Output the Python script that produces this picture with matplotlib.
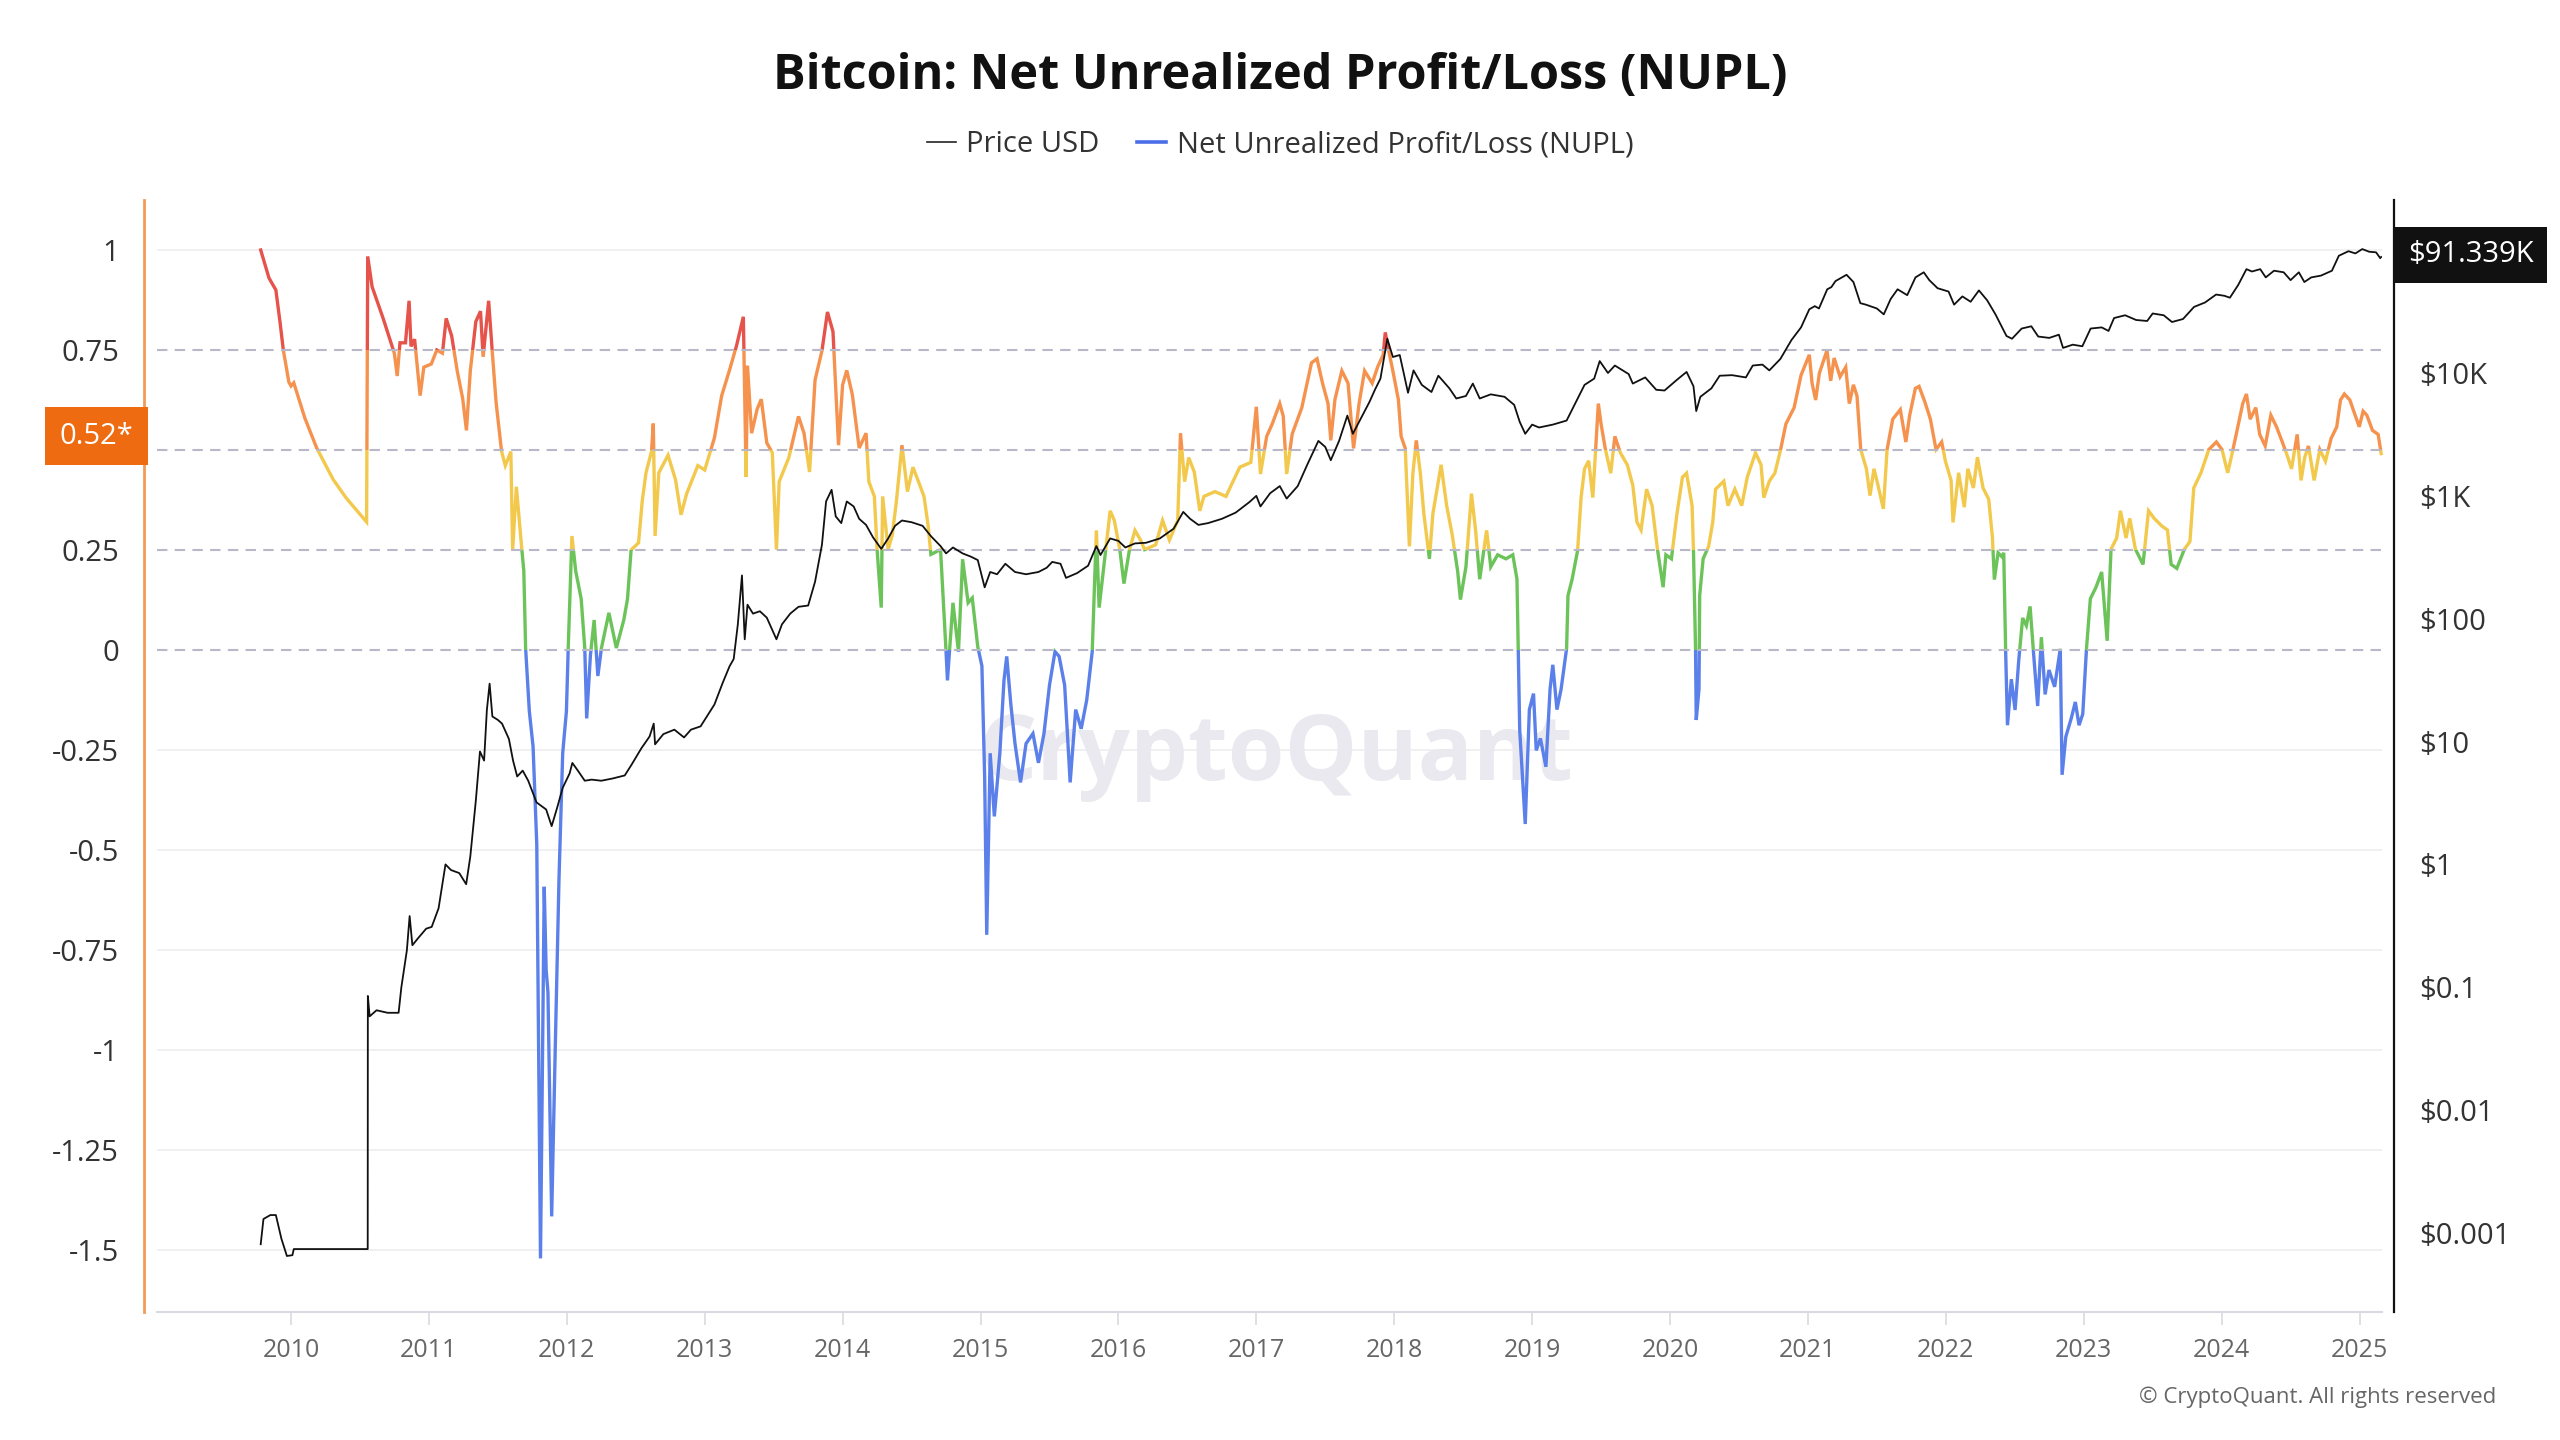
import matplotlib
matplotlib.use('Agg')
import matplotlib.pyplot as plt
from matplotlib.patches import Rectangle
from matplotlib.lines import Line2D

plt.rcParams['font.family'] = ['Open Sans', 'DejaVu Sans']

# ---------------- data ----------------
nupl_t = [2009.78, 2009.84, 2009.89, 2009.92, 2009.944, 2009.984, 2010.00, 2010.02, 2010.10, 2010.186,
          2010.306, 2010.40, 2010.548, 2010.556, 2010.588, 2010.668, 2010.749, 2010.77, 2010.79, 2010.83,
          2010.856, 2010.87, 2010.896, 2010.936, 2010.963, 2011.017, 2011.057, 2011.098, 2011.125, 2011.165,
          2011.205, 2011.245, 2011.272, 2011.30, 2011.34, 2011.374, 2011.393, 2011.433, 2011.46, 2011.487,
          2011.527, 2011.554, 2011.594, 2011.607, 2011.634, 2011.674, 2011.688, 2011.701, 2011.728, 2011.755,
          2011.782, 2011.809, 2011.836, 2011.85, 2011.863, 2011.89, 2011.916, 2011.943, 2011.97, 2011.997,
          2012.01, 2012.037, 2012.064, 2012.104, 2012.13, 2012.144, 2012.171, 2012.198, 2012.225, 2012.251,
          2012.305, 2012.359, 2012.413, 2012.44, 2012.466, 2012.52, 2012.547, 2012.574, 2012.614, 2012.627,
          2012.64, 2012.667, 2012.734, 2012.788, 2012.828, 2012.869, 2012.95, 2013.00, 2013.07, 2013.123,
          2013.18, 2013.23, 2013.28, 2013.30, 2013.31, 2013.34, 2013.38, 2013.41, 2013.45, 2013.49,
          2013.52, 2013.54, 2013.61, 2013.68, 2013.72, 2013.76, 2013.80, 2013.85, 2013.89, 2013.93,
          2013.97, 2014.00, 2014.03, 2014.07, 2014.12, 2014.17, 2014.19, 2014.23, 2014.25, 2014.28,
          2014.29, 2014.33, 2014.36, 2014.39, 2014.43, 2014.47, 2014.51, 2014.55, 2014.59, 2014.62,
          2014.64, 2014.71, 2014.75, 2014.76, 2014.80, 2014.84, 2014.87, 2014.91, 2014.94, 2014.98,
          2015.01, 2015.03, 2015.045, 2015.07, 2015.10, 2015.14, 2015.17, 2015.19, 2015.22, 2015.25,
          2015.29, 2015.33, 2015.38, 2015.42, 2015.46, 2015.50, 2015.54, 2015.57, 2015.61, 2015.65,
          2015.69, 2015.73, 2015.77, 2015.81, 2015.84, 2015.86, 2015.90, 2015.94, 2015.97, 2016.01,
          2016.04, 2016.08, 2016.12, 2016.16, 2016.19, 2016.27, 2016.32, 2016.37, 2016.43, 2016.45,
          2016.48, 2016.51, 2016.55, 2016.59, 2016.62, 2016.70, 2016.78, 2016.83, 2016.88, 2016.96,
          2017.00, 2017.03, 2017.075, 2017.115, 2017.17, 2017.195, 2017.22, 2017.26, 2017.33, 2017.40,
          2017.44, 2017.48, 2017.52, 2017.54, 2017.57, 2017.62, 2017.665, 2017.705, 2017.745, 2017.785,
          2017.84, 2017.88, 2017.92, 2017.935, 2017.96, 2017.99, 2018.03, 2018.05, 2018.08, 2018.11,
          2018.135, 2018.16, 2018.19, 2018.215, 2018.255, 2018.28, 2018.34, 2018.38, 2018.42, 2018.46,
          2018.48, 2018.52, 2018.56, 2018.59, 2018.62, 2018.67, 2018.70, 2018.75, 2018.81, 2018.86,
          2018.89, 2018.91, 2018.94, 2018.95, 2018.98, 2019.01, 2019.03, 2019.06, 2019.10, 2019.13,
          2019.15, 2019.18, 2019.21, 2019.25, 2019.26, 2019.29, 2019.33, 2019.355, 2019.38, 2019.41,
          2019.44, 2019.48, 2019.50, 2019.53, 2019.57, 2019.60, 2019.64, 2019.69, 2019.73, 2019.76,
          2019.79, 2019.83, 2019.87, 2019.91, 2019.95, 2019.97, 2020.01, 2020.05, 2020.09, 2020.12,
          2020.16, 2020.17, 2020.185, 2020.19, 2020.21, 2020.215, 2020.24, 2020.28, 2020.31, 2020.33,
          2020.39, 2020.42, 2020.47, 2020.52, 2020.56, 2020.62, 2020.66, 2020.68, 2020.72, 2020.76,
          2020.80, 2020.84, 2020.90, 2020.95, 2021.01, 2021.03, 2021.056, 2021.083, 2021.138, 2021.165,
          2021.19, 2021.233, 2021.274, 2021.30, 2021.33, 2021.356, 2021.383, 2021.424, 2021.45, 2021.479,
          2021.506, 2021.547, 2021.574, 2021.615, 2021.67, 2021.71, 2021.738, 2021.779, 2021.806, 2021.847,
          2021.888, 2021.929, 2021.97, 2021.997, 2022.038, 2022.052, 2022.093, 2022.134, 2022.16, 2022.20,
          2022.229, 2022.27, 2022.311, 2022.338, 2022.352, 2022.379, 2022.407, 2022.42, 2022.434, 2022.447,
          2022.475, 2022.502, 2022.529, 2022.557, 2022.584, 2022.611, 2022.638, 2022.666, 2022.693, 2022.72,
          2022.748, 2022.789, 2022.83, 2022.843, 2022.87, 2022.911, 2022.939, 2022.966, 2022.993, 2023.02,
          2023.048, 2023.089, 2023.13, 2023.17, 2023.198, 2023.239, 2023.266, 2023.307, 2023.334, 2023.375,
          2023.43, 2023.47, 2023.511, 2023.566, 2023.607, 2023.634, 2023.675, 2023.73, 2023.77, 2023.798,
          2023.85, 2023.907, 2023.962, 2024.003, 2024.044, 2024.07, 2024.112, 2024.153, 2024.18, 2024.207,
          2024.248, 2024.276, 2024.316, 2024.357, 2024.398, 2024.44, 2024.48, 2024.507, 2024.548, 2024.576,
          2024.603, 2024.63, 2024.671, 2024.712, 2024.753, 2024.794, 2024.835, 2024.862, 2024.89, 2024.93,
          2024.958, 2024.998, 2025.026, 2025.053, 2025.094, 2025.135, 2025.157]
nupl_v = [1.00, 0.93, 0.90, 0.82, 0.75, 0.67, 0.66, 0.668, 0.58, 0.505,
          0.426, 0.38, 0.32, 0.984, 0.908, 0.829, 0.742, 0.685, 0.768, 0.768,
          0.873, 0.759, 0.777, 0.636, 0.707, 0.715, 0.75, 0.742, 0.829, 0.785,
          0.698, 0.628, 0.549, 0.698, 0.821, 0.847, 0.733, 0.873, 0.742, 0.619,
          0.496, 0.461, 0.496, 0.25, 0.408, 0.25, 0.198, 0.005, -0.153, -0.241,
          -0.486, -1.521, -0.592, -0.80, -0.855, -1.416, -0.995, -0.574, -0.258, -0.153,
          0.005, 0.285, 0.198, 0.128, 0.005, -0.171, -0.013, 0.075, -0.065, 0.005,
          0.093, 0.005, 0.075, 0.128, 0.25, 0.268, 0.373, 0.443, 0.496, 0.566,
          0.285, 0.443, 0.487, 0.426, 0.338, 0.391, 0.461, 0.45, 0.53, 0.636,
          0.70, 0.76, 0.833, 0.433, 0.711, 0.542, 0.602, 0.627, 0.518, 0.493,
          0.251, 0.421, 0.481, 0.584, 0.542, 0.445, 0.675, 0.748, 0.845, 0.796,
          0.512, 0.663, 0.699, 0.639, 0.505, 0.542, 0.421, 0.384, 0.251, 0.106,
          0.384, 0.251, 0.288, 0.372, 0.512, 0.396, 0.457, 0.421, 0.384, 0.311,
          0.239, 0.251, -0.004, -0.076, 0.118, -0.004, 0.227, 0.118, 0.130, 0.008,
          -0.040, -0.319, -0.712, -0.258, -0.416, -0.258, -0.076, -0.016, -0.137, -0.234,
          -0.331, -0.234, -0.209, -0.282, -0.209, -0.088, -0.004, -0.016, -0.088, -0.331,
          -0.149, -0.197, -0.125, -0.004, 0.299, 0.106, 0.227, 0.348, 0.324, 0.251,
          0.166, 0.251, 0.299, 0.275, 0.251, 0.263, 0.324, 0.275, 0.324, 0.542,
          0.421, 0.481, 0.445, 0.348, 0.384, 0.396, 0.384, 0.421, 0.457, 0.469,
          0.608, 0.44, 0.534, 0.565, 0.616, 0.585, 0.44, 0.54, 0.606, 0.718,
          0.728, 0.667, 0.616, 0.524, 0.626, 0.698, 0.667, 0.504, 0.616, 0.698,
          0.667, 0.708, 0.738, 0.794, 0.748, 0.698, 0.626, 0.534, 0.504, 0.259,
          0.44, 0.524, 0.44, 0.34, 0.228, 0.34, 0.463, 0.361, 0.289, 0.197,
          0.126, 0.208, 0.391, 0.299, 0.177, 0.299, 0.208, 0.238, 0.228, 0.238,
          0.177, -0.2, -0.374, -0.435, -0.149, -0.109, -0.251, -0.221, -0.292, -0.098,
          -0.037, -0.149, -0.098, 0.004, 0.136, 0.177, 0.249, 0.381, 0.453, 0.473,
          0.381, 0.616, 0.565, 0.504, 0.442, 0.534, 0.493, 0.463, 0.412, 0.32,
          0.30, 0.402, 0.361, 0.249, 0.157, 0.238, 0.228, 0.34, 0.432, 0.442,
          0.361, 0.249, 0.004, -0.175, -0.098, 0.136, 0.228, 0.259, 0.32, 0.402,
          0.422, 0.361, 0.402, 0.361, 0.432, 0.493, 0.463, 0.381, 0.422, 0.442,
          0.498, 0.565, 0.606, 0.687, 0.738, 0.667, 0.625, 0.692, 0.749, 0.673,
          0.73, 0.683, 0.707, 0.616, 0.663, 0.635, 0.501, 0.453, 0.386, 0.453,
          0.415, 0.353, 0.501, 0.577, 0.601, 0.52, 0.587, 0.654, 0.659, 0.621,
          0.577, 0.501, 0.52, 0.472, 0.424, 0.319, 0.443, 0.357, 0.453, 0.405,
          0.482, 0.405, 0.377, 0.281, 0.176, 0.243, 0.233, 0.243, -0.006, -0.188,
          -0.073, -0.15, -0.025, 0.08, 0.061, 0.109, -0.016, -0.14, 0.032, -0.111,
          -0.05, -0.092, 0.003, -0.312, -0.217, -0.169, -0.13, -0.188, -0.16, 0.003,
          0.128, 0.157, 0.195, 0.023, 0.252, 0.28, 0.348, 0.28, 0.329, 0.252,
          0.214, 0.348, 0.329, 0.31, 0.3, 0.214, 0.204, 0.252, 0.271, 0.405,
          0.443, 0.501, 0.52, 0.501, 0.443, 0.482, 0.549, 0.616, 0.64, 0.577,
          0.606, 0.539, 0.51, 0.587, 0.558, 0.52, 0.482, 0.453, 0.539, 0.424,
          0.482, 0.51, 0.424, 0.501, 0.472, 0.529, 0.558, 0.625, 0.64, 0.625,
          0.597, 0.558, 0.597, 0.587, 0.549, 0.539, 0.491]

price_t = [2009.78, 2009.80, 2009.85, 2009.89, 2009.93, 2009.97, 2010.01, 2010.02, 2010.556, 2010.557,
           2010.57, 2010.62, 2010.70, 2010.78, 2010.80, 2010.84, 2010.86, 2010.88, 2010.92, 2010.98,
           2011.02, 2011.07, 2011.12, 2011.16, 2011.22, 2011.27, 2011.30, 2011.34, 2011.37, 2011.40,
           2011.42, 2011.44, 2011.46, 2011.50, 2011.53, 2011.58, 2011.61, 2011.64, 2011.68, 2011.72,
           2011.78, 2011.85, 2011.89, 2011.93, 2011.97, 2012.02, 2012.04, 2012.08, 2012.13, 2012.18,
           2012.25, 2012.33, 2012.42, 2012.47, 2012.54, 2012.60, 2012.63, 2012.64, 2012.70, 2012.78,
           2012.85, 2012.90, 2012.97, 2013.07, 2013.13, 2013.18, 2013.21, 2013.24, 2013.27, 2013.29,
           2013.31, 2013.35, 2013.40, 2013.45, 2013.52, 2013.56, 2013.62, 2013.68, 2013.75, 2013.80,
           2013.85, 2013.88, 2013.92, 2013.95, 2013.99, 2014.03, 2014.08, 2014.12, 2014.17, 2014.22,
           2014.28, 2014.33, 2014.38, 2014.43, 2014.50, 2014.58, 2014.64, 2014.71, 2014.75, 2014.80,
           2014.87, 2014.93, 2014.98, 2015.03, 2015.07, 2015.12, 2015.18, 2015.25, 2015.33, 2015.42,
           2015.48, 2015.52, 2015.58, 2015.62, 2015.70, 2015.78, 2015.84, 2015.87, 2015.94, 2016.00,
           2016.05, 2016.12, 2016.20, 2016.30, 2016.40, 2016.47, 2016.52, 2016.58, 2016.65, 2016.75,
           2016.85, 2016.95, 2017.00, 2017.03, 2017.10, 2017.17, 2017.22, 2017.30, 2017.37, 2017.45,
           2017.50, 2017.54, 2017.60, 2017.66, 2017.70, 2017.76, 2017.82, 2017.86, 2017.90, 2017.95,
           2017.99, 2018.04, 2018.10, 2018.14, 2018.20, 2018.27, 2018.32, 2018.40, 2018.45, 2018.52,
           2018.57, 2018.62, 2018.70, 2018.80, 2018.87, 2018.91, 2018.95, 2019.00, 2019.05, 2019.15,
           2019.25, 2019.30, 2019.38, 2019.45, 2019.49, 2019.55, 2019.60, 2019.70, 2019.73, 2019.82,
           2019.90, 2019.96, 2020.05, 2020.12, 2020.17, 2020.19, 2020.22, 2020.30, 2020.36, 2020.45,
           2020.55, 2020.60, 2020.67, 2020.72, 2020.80, 2020.88, 2020.95, 2021.01, 2021.05, 2021.08,
           2021.14, 2021.17, 2021.20, 2021.28, 2021.33, 2021.38, 2021.42, 2021.50, 2021.55, 2021.60,
           2021.65, 2021.72, 2021.78, 2021.84, 2021.88, 2021.94, 2022.02, 2022.06, 2022.12, 2022.18,
           2022.24, 2022.30, 2022.36, 2022.44, 2022.48, 2022.55, 2022.62, 2022.67, 2022.75, 2022.82,
           2022.85, 2022.92, 2022.99, 2023.05, 2023.13, 2023.18, 2023.22, 2023.30, 2023.38, 2023.46,
           2023.50, 2023.58, 2023.64, 2023.72, 2023.80, 2023.88, 2023.96, 2024.02, 2024.06, 2024.12,
           2024.18, 2024.22, 2024.28, 2024.32, 2024.38, 2024.45, 2024.50, 2024.56, 2024.60, 2024.65,
           2024.72, 2024.80, 2024.85, 2024.92, 2024.97, 2025.02, 2025.07, 2025.12, 2025.15, 2025.157]
price_v = [0.00081, 0.0013, 0.0014, 0.0014, 0.0009, 0.00065, 0.00066, 0.00074, 0.00074, 0.085,
           0.058, 0.065, 0.062, 0.062, 0.10, 0.20, 0.38, 0.22, 0.25, 0.30,
           0.31, 0.44, 1.0, 0.90, 0.85, 0.69, 1.16, 3.3, 8.3, 7.0,
           18, 29.6, 16, 15, 14, 10.5, 7, 5.2, 5.8, 4.8,
           3.2, 2.8, 2.05, 2.9, 4.2, 5.5, 6.7, 5.8, 4.8, 4.9,
           4.8, 5.0, 5.3, 6.5, 8.8, 11, 14, 9.5, 11.5, 12.5,
           10.8, 12.5, 13.3, 20, 30, 41, 47, 90, 225, 68,
           130, 110, 115, 102, 68, 90, 110, 125, 128, 200,
           400, 900, 1120, 680, 600, 900, 820, 650, 580, 460,
           370, 450, 570, 630, 610, 570, 470, 390, 340, 380,
           340, 320, 300, 180, 240, 230, 280, 240, 230, 240,
           260, 290, 280, 215, 235, 270, 390, 330, 450, 430,
           380, 410, 415, 450, 540, 740, 650, 580, 600, 650,
           730, 890, 1000, 820, 1050, 1200, 950, 1200, 1800, 2800,
           2500, 1950, 2800, 4500, 3200, 4300, 5800, 7300, 9000, 19000,
           13500, 14000, 6900, 10500, 8000, 7000, 9500, 7500, 6200, 6500,
           8200, 6200, 6700, 6400, 5500, 4000, 3200, 3800, 3600, 3800,
           4100, 5300, 8000, 9000, 12500, 10000, 11500, 9800, 8200, 9200,
           7300, 7200, 8800, 10200, 7800, 4900, 6400, 7500, 9500, 9600,
           9200, 11500, 11700, 10500, 13000, 18500, 23500, 33000, 35000, 33500,
           48000, 50000, 56000, 63000, 55000, 37000, 36000, 33500, 30000, 40000,
           48000, 43000, 60000, 66000, 57000, 49000, 46000, 36000, 42000, 38000,
           47000, 39000, 30000, 20000, 19000, 23000, 24000, 19800, 19300, 20500,
           16000, 17000, 16500, 23000, 23500, 22000, 28000, 29500, 27000, 26500,
           30500, 29500, 26000, 27500, 34500, 37500, 43500, 42500, 41000, 52000,
           70000, 67000, 70000, 60000, 68000, 66000, 57000, 66000, 55000, 60000,
           62000, 68000, 90000, 98000, 94000, 102000, 97000, 96000, 86000, 88000]

years = list(range(2010, 2026))
nupl_ticks = [1, 0.75, 0.5, 0.25, 0, -0.25, -0.5, -0.75, -1, -1.25, -1.5]
nupl_tick_labels = ['1', '0.75', '0.5', '0.25', '0', '-0.25', '-0.5', '-0.75', '-1', '-1.25', '-1.5']
zone_lines = [0.75, 0.5, 0.25, 0]
price_ticks = [0.001, 0.01, 0.1, 1, 10, 100, 1000, 10000]
price_tick_labels = ['$0.001', '$0.01', '$0.1', '$1', '$10', '$100', '$1K', '$10K']
zones = [(-10, 0, '#5b80ea'), (0, 0.25, '#6cc35a'), (0.25, 0.5, '#f2c94c'),
         (0.5, 0.75, '#f5924e'), (0.75, 10, '#e5534b')]
last_nupl, last_nupl_label = 0.52, '0.52*'
last_price, last_price_label = 91339, '$91.339K'

# ---------------- figure ----------------
W, H = 2560, 1440
fig = plt.figure(figsize=(W / 100, H / 100), dpi=100)
fig.patch.set_facecolor('white')
ax = fig.add_axes([157 / W, 1 - 1312 / H, (2382 - 157) / W, (1312 - 200) / H])
ax.set_xlim(2009.028, 2025.163)
ax.set_ylim(-1.655, 1.125)

# gridlines
for v in nupl_ticks:
    if v in zone_lines:
        ax.axhline(v, color='#b8b8c8', lw=1.5, ls=(0, (5, 3.5)), zorder=5)
    else:
        ax.axhline(v, color='#efeff2', lw=1.3, zorder=0)

# watermark
ax.text(0.503, 0.50, 'CryptoQuant', transform=ax.transAxes, ha='center', va='center',
        fontsize=66, fontweight='bold', color='#e9e9ef', zorder=0.5)

# NUPL coloured by zone
for lo, hi, col in zones:
    ln, = ax.plot(nupl_t, nupl_v, color=col, lw=2.4, solid_joinstyle='miter', zorder=2)
    clip = Rectangle((2000, lo), 40, hi - lo, transform=ax.transData)
    ln.set_clip_path(clip)

# spines / ticks left axis
for s in ['top', 'right']:
    ax.spines[s].set_visible(False)
ax.spines['left'].set_position(('outward', 9.4))
ax.spines['left'].set_color('#f29b58')
ax.spines['left'].set_linewidth(2.0)
ax.spines['bottom'].set_color('#d9d9e2')
ax.spines['bottom'].set_linewidth(1.5)
ax.set_yticks(nupl_ticks)
# the 0.5 label sits under the current-value badge, as in the original
ax.set_yticklabels(['' if v == 0.5 else lab for v, lab in zip(nupl_ticks, nupl_tick_labels)])
ax.tick_params(axis='y', length=0, pad=18, labelsize=21, labelcolor='#333333')
ax.set_xticks(years)
ax.set_xticklabels([str(y) for y in years])
ax.tick_params(axis='x', length=9.5, width=1.2, color='#d9d9e2', pad=9, labelsize=18,
               labelcolor='#666666')
ax.minorticks_off()

# price axis
ax2 = ax.twinx()
ax2.set_yscale('log')
ax2.set_ylim(10 ** -3.643, 10 ** 5.408)
ax2.plot(price_t, price_v, color='#111111', lw=1.3, zorder=3)
for s in ['top', 'left', 'bottom']:
    ax2.spines[s].set_visible(False)
ax2.spines['right'].set_position(('outward', 8.6))
ax2.spines['right'].set_color('#111111')
ax2.spines['right'].set_linewidth(1.6)
ax2.set_yticks(price_ticks)
ax2.set_yticklabels(price_tick_labels)
ax2.minorticks_off()
ax2.tick_params(axis='y', which='both', length=0, pad=18, labelsize=21, labelcolor='#333333')

# value badges
ax.annotate(last_nupl_label, xy=(0, last_nupl), xycoords=('axes fraction', 'data'),
            xytext=(-24, 6), textcoords='offset pixels', ha='right', va='center',
            fontsize=21, color='white', annotation_clip=False, zorder=10,
            bbox=dict(boxstyle='square,pad=0.5', fc='#ee6b12', ec='none'))
ax2.annotate(last_price_label, xy=(1, last_price), xycoords=('axes fraction', 'data'),
             xytext=(26, 0), textcoords='offset pixels', ha='left', va='center',
             fontsize=21, color='white', annotation_clip=False, zorder=10,
             bbox=dict(boxstyle='square,pad=0.45', fc='#111111', ec='none'))

# title, legend, footer
fig.text(0.5, 1 - 76 / H, 'Bitcoin: Net Unrealized Profit/Loss (NUPL)', ha='center', va='center',
         fontsize=35, fontweight='bold', color='#111111')
handles = [Line2D([], [], color='#222222', lw=1.2), Line2D([], [], color='#4a6ee8', lw=2.6)]
fig.legend(handles, ['Price USD', 'Net Unrealized Profit/Loss (NUPL)'], loc='center',
           bbox_to_anchor=(0.5, 1 - 145 / H), ncol=2, frameon=False, fontsize=21,
           handlelength=1.0, handletextpad=0.35, columnspacing=1.3, labelcolor='#333333')
fig.text(2496 / W, 1 - 1397 / H, '© CryptoQuant. All rights reserved', ha='right', va='center',
         fontsize=16, color='#666666')

fig.savefig('out.png', dpi=100, facecolor='white')
